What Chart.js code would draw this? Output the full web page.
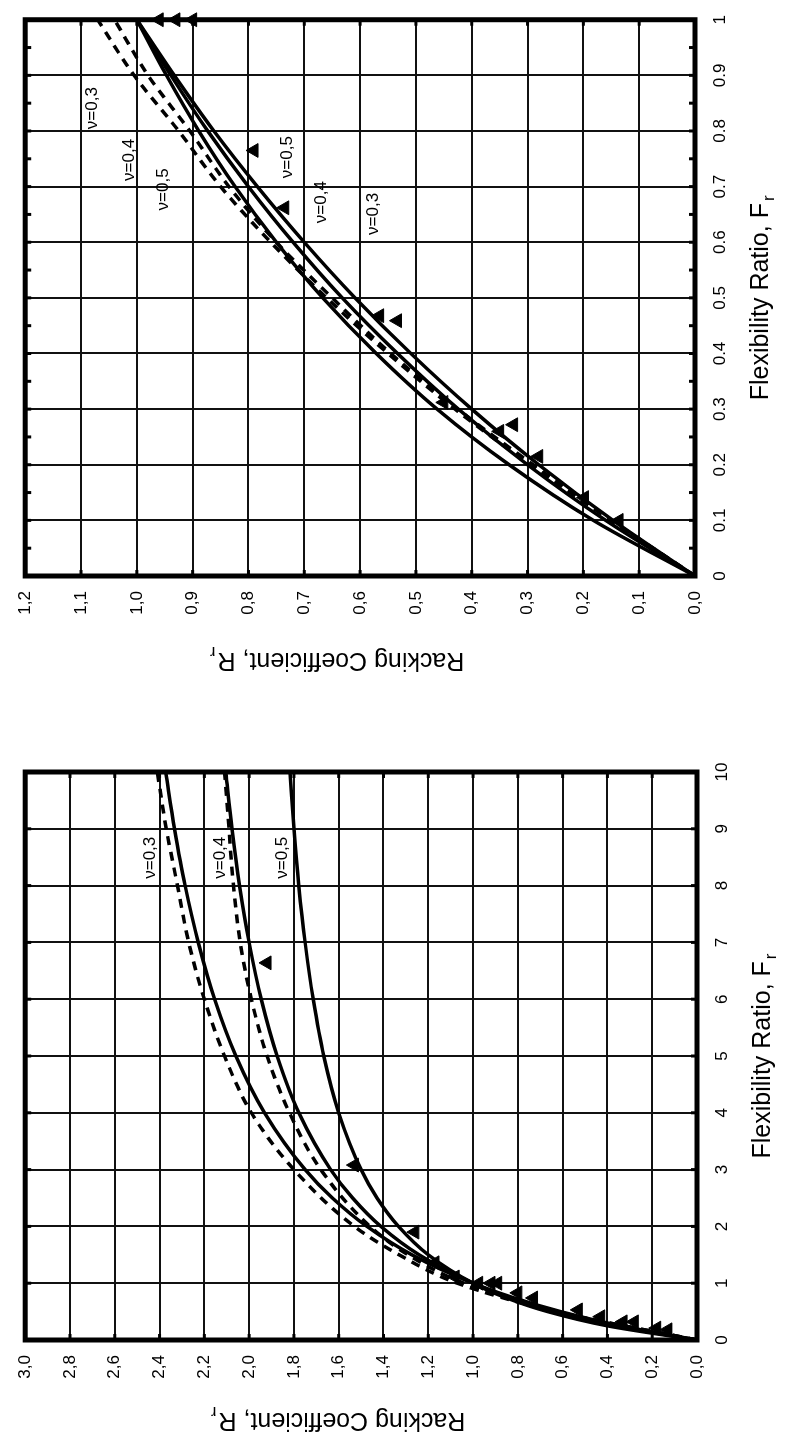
<!DOCTYPE html>
<html>
<head>
<meta charset="utf-8">
<script src="https://cdn.jsdelivr.net/npm/chart.js@4.4.1/dist/chart.umd.min.js"></script>
<style>
  html, body { margin: 0; padding: 0; background: #fff; }
  body { width: 785px; height: 1443px; overflow: hidden; position: relative; }
  /* las dos gráficas se dibujan apaisadas y se giran 90° */
  #hoja { position: absolute; left: 0; top: 0; width: 1443px; height: 785px;
          transform-origin: 0 0; transform: translateY(1443px) rotate(-90deg); }
  .caja { position: absolute; top: 0; height: 785px; }
  #cajaAmplia { left: 0; width: 710px; }
  #cajaCorta { left: 730px; width: 713px; }
</style>
</head>
<body>
<div id="hoja">
  <div class="caja" id="cajaAmplia"><canvas id="graficaAmplia"></canvas></div>
  <div class="caja" id="cajaCorta"><canvas id="graficaCorta"></canvas></div>
</div>
<script>
// ---- Rango amplio: Fr de 0 a 10 ----
const frAmplio = [0, 0.25, 0.5, 0.75, 1, 1.5, 2, 2.5, 3, 4, 5, 6, 7, 8, 9, 10];
const rrAmplio03 = [0, 0.341, 0.609, 0.824, 1.000, 1.273, 1.474, 1.628, 1.750, 1.931, 2.059, 2.154, 2.227, 2.286, 2.333, 2.373];
const rrAmplio04 = [0, 0.364, 0.632, 0.837, 1.000, 1.241, 1.412, 1.538, 1.636, 1.778, 1.875, 1.946, 2.000, 2.043, 2.077, 2.105];
const rrAmplio05 = [0, 0.400, 0.667, 0.857, 1.000, 1.200, 1.333, 1.429, 1.500, 1.600, 1.667, 1.714, 1.750, 1.778, 1.800, 1.818];
const frAmplioDisc = [0, 0.5, 1, 1.5, 2, 3, 4, 5, 6, 7, 8, 9, 10];
const rrAmplioDiscA = [0, 0.63, 1.07, 1.33, 1.53, 1.80, 1.99, 2.11, 2.20, 2.27, 2.32, 2.37, 2.41];
const rrAmplioDiscB = [0, 0.63, 1.04, 1.29, 1.46, 1.68, 1.82, 1.92, 1.99, 2.04, 2.07, 2.09, 2.11];
const triAmplioFr = [6.64, 3.08, 1.9, 1.36, 1.11, 1.0, 1.0, 1.0, 0.83, 0.74, 0.53, 0.41, 0.32, 0.32, 0.21, 0.18];
const triAmplioRr = [1.92, 1.53, 1.26, 1.17, 1.08, 0.975, 0.92, 0.89, 0.80, 0.73, 0.53, 0.43, 0.33, 0.28, 0.18, 0.13];
const ticksFrAmplio = [0, 1, 2, 3, 4, 5, 6, 7, 8, 9, 10];
const etiquetasFrAmplio = ['0', '1', '2', '3', '4', '5', '6', '7', '8', '9', '10'];
const ticksRrAmplio = [0, 0.2, 0.4, 0.6, 0.8, 1.0, 1.2, 1.4, 1.6, 1.8, 2.0, 2.2, 2.4, 2.6, 2.8, 3.0];
const etiquetasRrAmplio = ['0,0', '0,2', '0,4', '0,6', '0,8', '1,0', '1,2', '1,4', '1,6', '1,8', '2,0', '2,2', '2,4', '2,6', '2,8', '3,0'];

// ---- Rango corto: Fr de 0 a 1 ----
const frCorto = [0, 0.1, 0.2, 0.3, 0.4, 0.5, 0.6, 0.7, 0.8, 0.9, 1.0];
const rrCorto03 = [0, 0.147, 0.280, 0.400, 0.509, 0.609, 0.700, 0.784, 0.862, 0.933, 1.000];
const rrCorto04 = [0, 0.160, 0.300, 0.424, 0.533, 0.632, 0.720, 0.800, 0.873, 0.939, 1.000];
const rrCorto05 = [0, 0.182, 0.333, 0.462, 0.571, 0.667, 0.750, 0.824, 0.889, 0.947, 1.000];
const rrCortoDiscA = [0, 0.15, 0.295, 0.43, 0.55, 0.66, 0.76, 0.85, 0.925, 1.005, 1.07];
const rrCortoDiscB = [0, 0.15, 0.29, 0.425, 0.545, 0.65, 0.75, 0.835, 0.905, 0.98, 1.04];
const triCortoFr = [1.0, 1.0, 1.0, 0.765, 0.662, 0.468, 0.459, 0.312, 0.272, 0.26, 0.215, 0.141, 0.10];
const triCortoRr = [0.96, 0.93, 0.90, 0.79, 0.735, 0.565, 0.533, 0.45, 0.325, 0.35, 0.28, 0.198, 0.136];
const ticksFrCorto = [0, 0.1, 0.2, 0.3, 0.4, 0.5, 0.6, 0.7, 0.8, 0.9, 1];
const etiquetasFrCorto = ['0', '0.1', '0.2', '0.3', '0.4', '0.5', '0.6', '0.7', '0.8', '0.9', '1'];
const ticksRrCorto = [0, 0.1, 0.2, 0.3, 0.4, 0.5, 0.6, 0.7, 0.8, 0.9, 1.0, 1.1, 1.2];
const etiquetasRrCorto = ['0,0', '0,1', '0,2', '0,3', '0,4', '0,5', '0,6', '0,7', '0,8', '0,9', '1,0', '1,1', '1,2'];

// etiquetas de las curvas (ν) en coordenadas de datos
const rotulosAmplio = [
    { texto: 'ν=0,3', fr: 8.49, rr: 2.44 },
    { texto: 'ν=0,4', fr: 8.49, rr: 2.13 },
    { texto: 'ν=0,5', fr: 8.49, rr: 1.85 },
];
const rotulosCorto = [
    { texto: 'ν=0,3', fr: 0.841, rr: 1.08 },
    { texto: 'ν=0,4', fr: 0.748, rr: 1.013 },
    { texto: 'ν=0,5', fr: 0.695, rr: 0.953 },
    { texto: 'ν=0,5', fr: 0.753, rr: 0.731 },
    { texto: 'ν=0,4', fr: 0.672, rr: 0.669 },
    { texto: 'ν=0,3', fr: 0.651, rr: 0.577 },
];

const FUENTE = '"Liberation Sans", Arial, Helvetica, sans-serif';

function puntos(xs, ys) {
    return xs.map((x, i) => ({ x: x, y: ys[i] }));
}

function curva(xs, ys, discontinua) {
    return {
        data: puntos(xs, ys),
        borderColor: '#000',
        borderWidth: 3.5,
        borderDash: discontinua ? [9, 7] : [],
        pointRadius: 0,
        cubicInterpolationMode: 'monotone',
        fill: false,
    };
}

function triangulos(xs, ys) {
    return {
        data: puntos(xs, ys),
        showLine: false,
        pointStyle: 'triangle',
        pointRadius: 8,
        backgroundColor: '#000',
        borderColor: '#000',
        borderWidth: 1,
        clip: false,
    };
}

// título con subíndice, centrado en (cx, cy)
function textoConSubindice(ctx, base, sub, cx, cy, size) {
    const grande = size + 'px ' + FUENTE;
    const chica = Math.round(size * 0.68) + 'px ' + FUENTE;
    ctx.font = grande;
    const wBase = ctx.measureText(base).width;
    ctx.font = chica;
    const wSub = ctx.measureText(sub).width;
    const x0 = cx - (wBase + wSub + 2) / 2;
    ctx.textAlign = 'left';
    ctx.textBaseline = 'middle';
    ctx.font = grande;
    ctx.fillText(base, x0, cy);
    ctx.font = chica;
    ctx.fillText(sub, x0 + wBase + 2, cy + size * 0.32);
}

// marco grueso, marcas hacia dentro, rótulos y títulos de ejes
const decorado = {
    id: 'decorado',
    afterDraw(chart, args, opts) {
        const { ctx, chartArea: a, scales: { x, y } } = chart;
        ctx.save();
        ctx.fillStyle = '#000';
        ctx.strokeStyle = '#000';

        const linea = (x1, y1, x2, y2) => {
            ctx.beginPath(); ctx.moveTo(x1, y1); ctx.lineTo(x2, y2); ctx.stroke();
        };
        ctx.lineWidth = 3;
        x.ticks.forEach(t => {
            const px = x.getPixelForValue(t.value);
            linea(px, a.bottom, px, a.bottom - 6);
            linea(px, a.top, px, a.top + 6);
        });
        y.ticks.forEach(t => {
            const py = y.getPixelForValue(t.value);
            linea(a.left, py, a.left + 6, py);
            linea(a.right, py, a.right - 6, py);
        });
        if (opts.menorX) {
            for (let v = opts.menorX; v < x.max; v += 2 * opts.menorX) {
                const px = x.getPixelForValue(v);
                linea(px, a.bottom, px, a.bottom - 6);
                linea(px, a.top, px, a.top + 6);
            }
        }

        ctx.lineWidth = 5;
        ctx.strokeRect(a.left, a.top, a.right - a.left, a.bottom - a.top);

        ctx.font = '17px ' + FUENTE;
        ctx.textAlign = 'center';
        ctx.textBaseline = 'middle';
        opts.rotulos.forEach(r => {
            ctx.fillText(r.texto, x.getPixelForValue(r.fr), y.getPixelForValue(r.rr));
        });

        textoConSubindice(ctx, 'Flexibility Ratio, F', 'r', (a.left + a.right) / 2, a.bottom + 66, 25);

        ctx.translate(a.left - opts.separacionY, (a.top + a.bottom) / 2 - 23);
        ctx.rotate(-Math.PI / 2);
        textoConSubindice(ctx, 'Racking Coefficient, R', 'r', 0, 0, 25);
        ctx.restore();
    }
};

function ejes(cfg) {
    const rejilla = { color: '#111', lineWidth: 2, drawTicks: false };
    const letra = { family: FUENTE, size: 17 };
    return {
        x: {
            type: 'linear', min: cfg.frMin, max: cfg.frMax,
            afterBuildTicks: s => { s.ticks = cfg.ticksFr.map(v => ({ value: v })); },
            afterFit: s => { s.height = cfg.altoX; },
            ticks: { callback: (v, i) => cfg.etiquetasFr[i], padding: 15, color: '#000', font: letra, maxRotation: 0, autoSkip: false },
            grid: rejilla,
            border: { display: false },
        },
        y: {
            type: 'linear', min: 0, max: cfg.rrMax,
            afterBuildTicks: s => { s.ticks = cfg.ticksRr.map(v => ({ value: v })); },
            afterFit: s => { s.width = cfg.anchoY; },
            ticks: { callback: (v, i) => cfg.etiquetasRr[i], padding: 15, color: '#000', font: letra, autoSkip: false },
            grid: rejilla,
            border: { display: false },
        },
    };
}

new Chart(document.getElementById('graficaAmplia'), {
    type: 'line',
    data: {
        datasets: [
            curva(frAmplio, rrAmplio03, false),
            curva(frAmplio, rrAmplio04, false),
            curva(frAmplio, rrAmplio05, false),
            curva(frAmplioDisc, rrAmplioDiscA, true),
            curva(frAmplioDisc, rrAmplioDiscB, true),
            triangulos(triAmplioFr, triAmplioRr),
        ],
    },
    options: {
        responsive: true,
        maintainAspectRatio: false,
        animation: false,
        layout: { padding: { top: 20, right: 39, left: 0, bottom: 0 } },
        plugins: {
            legend: { display: false },
            tooltip: { enabled: false },
            decorado: { rotulos: rotulosAmplio, separacionY: 80, menorX: null },
        },
        scales: ejes({
            frMin: 0, frMax: 10, rrMax: 3,
            ticksFr: ticksFrAmplio, etiquetasFr: etiquetasFrAmplio,
            ticksRr: ticksRrAmplio, etiquetasRr: etiquetasRrAmplio,
            altoX: 88, anchoY: 103,
        }),
    },
    plugins: [decorado],
});

new Chart(document.getElementById('graficaCorta'), {
    type: 'line',
    data: {
        datasets: [
            curva(frCorto, rrCorto03, false),
            curva(frCorto, rrCorto04, false),
            curva(frCorto, rrCorto05, false),
            curva(frCorto, rrCortoDiscA, true),
            curva(frCorto, rrCortoDiscB, true),
            triangulos(triCortoFr, triCortoRr),
        ],
    },
    options: {
        responsive: true,
        maintainAspectRatio: false,
        animation: false,
        layout: { padding: { top: 17, right: 10, left: 0, bottom: 0 } },
        plugins: {
            legend: { display: false },
            tooltip: { enabled: false },
            decorado: { rotulos: rotulosCorto, separacionY: 84, menorX: 0.05 },
        },
        scales: ejes({
            frMin: 0, frMax: 1, rrMax: 1.2,
            ticksFr: ticksFrCorto, etiquetasFr: etiquetasFrCorto,
            ticksRr: ticksRrCorto, etiquetasRr: etiquetasRrCorto,
            altoX: 90, anchoY: 137,
        }),
    },
    plugins: [decorado],
});
</script>
</body>
</html>
